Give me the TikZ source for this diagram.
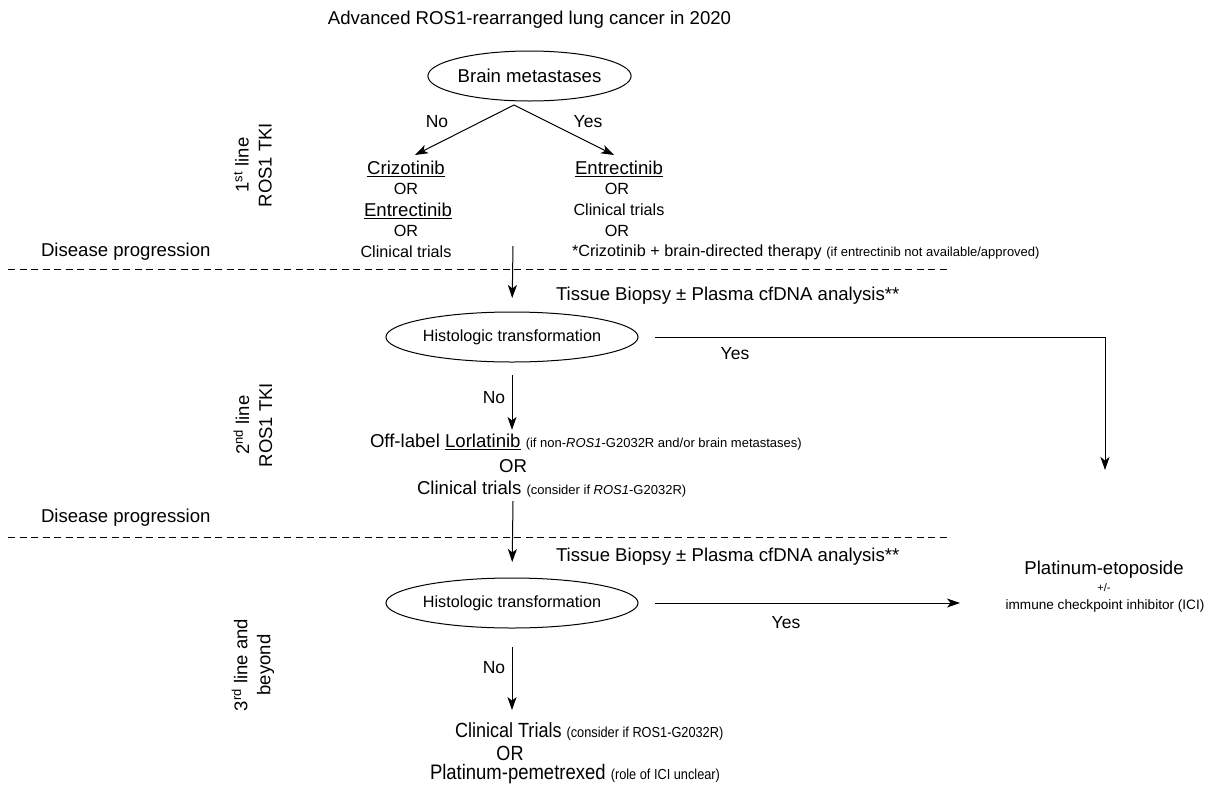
\documentclass[tikz,border=0pt]{standalone}
\usepackage{fontspec}
\setmainfont{Liberation Sans}
\newfontfamily\narrowfont[FakeStretch=0.88]{Liberation Sans}
\usetikzlibrary{shapes.geometric,arrows.meta}
\begin{document}
\begin{tikzpicture}[x=1pt,y=-1pt,
  every node/.style={inner sep=0pt, outer sep=0pt},
  big/.style={font=\fontsize{18.6}{21}\selectfont},
  drug/.style={font=\fontsize{18.6}{21}\selectfont},
  mid/.style={font=\fontsize{16.2}{19}\selectfont},
  lbl/.style={font=\fontsize{17.5}{20}\selectfont},
  ell/.style={ellipse, draw, line width=1pt},
  arr/.style={-{Stealth[length=13pt,width=9pt,inset=3.5pt]}, line width=1pt},
  sep/.style={dashed, dash pattern=on 7pt off 4.5pt, line width=0.8pt},
  side/.style={rotate=90, align=center, font=\fontsize{18.5}{23}\selectfont}]
\useasboundingbox (0,0) rectangle (1216,785);
% title
\node[big] (title) at (529.5,20) {Advanced ROS1-rearranged lung cancer in 2020};
% side labels
\node[side] (l1) at (253,165) {1\textsuperscript{st} line\\ROS1 TKI};
\node[side] (l2) at (253,425) {2\textsuperscript{nd} line\\ROS1 TKI};
\node[side] (l3) at (253,665) {3\textsuperscript{rd} line and\\beyond};
% disease progression
\node[big, anchor=west] (dp1) at (41,252) {Disease progression};
\node[big, anchor=west] (dp2) at (41,518) {Disease progression};
\coordinate (s1a) at (8,269); \coordinate (s1b) at (950,269);
\coordinate (s2a) at (8,537); \coordinate (s2b) at (950,537);
\draw[sep] (s1a) -- (s1b);
\draw[sep] (s2a) -- (s2b);
% brain metastases
\node[ell, big, minimum width=199pt, minimum height=50pt] (brain) at (529.5,76) {Brain metastases};
\coordinate (apex) at (514,105);
\node[drug] (crizo) at (406,169) {\underline{Crizotinib}};
\node[mid] (or1) at (406,189) {OR};
\node[drug] (entr1) at (408,211) {\underline{Entrectinib}};
\node[mid] (or2) at (406,231) {OR};
\node[mid] (ct1) at (406,252) {Clinical trials};
\node[drug] (entr2) at (619,169) {\underline{Entrectinib}};
\node[mid] (or3) at (617,189) {OR};
\node[mid] (ct2) at (619,210) {Clinical trials};
\node[mid] (or4) at (617,231) {OR};
\node[mid, anchor=west] (crizbr) at (572,252) {*Crizotinib + brain-directed therapy {\fontsize{13}{15}\selectfont(if entrectinib not available/approved)}};
\coordinate (tipl) at (415,155);
\coordinate (tipr) at (614,155);
\draw[arr] (apex) -- (tipl);
\draw[arr] (apex) -- (tipr);
\node[lbl] (no0) at (437,122) {No};
\node[lbl] (yes0) at (588,122) {Yes};
% first progression
\coordinate (p1) at (513,246);
\node[big, anchor=west] (tb1) at (556,296) {Tissue Biopsy ± Plasma cfDNA analysis**};
\node[ell, minimum width=196pt, minimum height=50pt, font=\fontsize{16.2}{19}\selectfont] (hist1) at (512,337) {Histologic transformation};
\draw[arr, shorten >=14pt] (p1) -- (hist1.north);
% platinum-etoposide
\node[big] (plat) at (1104,570) {Platinum-etoposide};
\node[font=\fontsize{11}{12}\selectfont] (platpm) at (1104,588) {+/-};
\node[font=\fontsize{13.6}{16}\selectfont] (platici) at (1105,606) {immune checkpoint inhibitor (ICI)};
\coordinate (yend1) at (1105,470);
\draw[arr, shorten <=17pt] (hist1.east) -| (yend1);
\node[lbl] (yes1) at (735,354) {Yes};
% second line
\node[big, anchor=west] (offl) at (370,442) {Off-label \underline{Lorlatinib} {\fontsize{13}{15}\selectfont(if non-\textit{ROS1}-G2032R and/or brain metastases)}};
\draw[arr, shorten <=13pt, shorten >=4pt] (hist1.south) -- (offl.north -| hist1.south);
\node[lbl] (no1) at (494,398) {No};
\node[big] (or5) at (513,466) {OR};
\node[big, anchor=west] (ct3) at (417,489) {Clinical trials {\fontsize{13}{15}\selectfont(consider if \textit{ROS1}-G2032R)}};
\node[ell, minimum width=196pt, minimum height=50pt, font=\fontsize{16.2}{19}\selectfont] (hist2) at (512,603) {Histologic transformation};
\coordinate (p2) at (513,501);
\draw[arr, shorten >=16pt] (p2) -- (hist2.north);
\node[big, anchor=west] (tb2) at (556,557) {Tissue Biopsy ± Plasma cfDNA analysis**};
\coordinate (yend2) at (960,603);
\draw[arr, shorten <=17pt] (hist2.east) -- (yend2);
\node[lbl] (yes2) at (786,623) {Yes};
% third line
\node[anchor=west, font=\narrowfont\fontsize{20.5}{23}\selectfont] (ct4) at (455,732) {Clinical Trials {\fontsize{14.5}{16}\selectfont(consider if ROS1-G2032R)}};
\node[font=\narrowfont\fontsize{20.5}{23}\selectfont] (or6) at (510,753) {OR};
\node[anchor=west, font=\narrowfont\fontsize{21}{23}\selectfont] (pp) at (430,774) {Platinum-pemetrexed {\fontsize{14.5}{16}\selectfont(role of ICI unclear)}};
\draw[arr, shorten <=19pt, shorten >=13pt] (hist2.south) -- (ct4.north -| hist2.south);
\node[lbl] (no2) at (494,668) {No};
\end{tikzpicture}
\end{document}
